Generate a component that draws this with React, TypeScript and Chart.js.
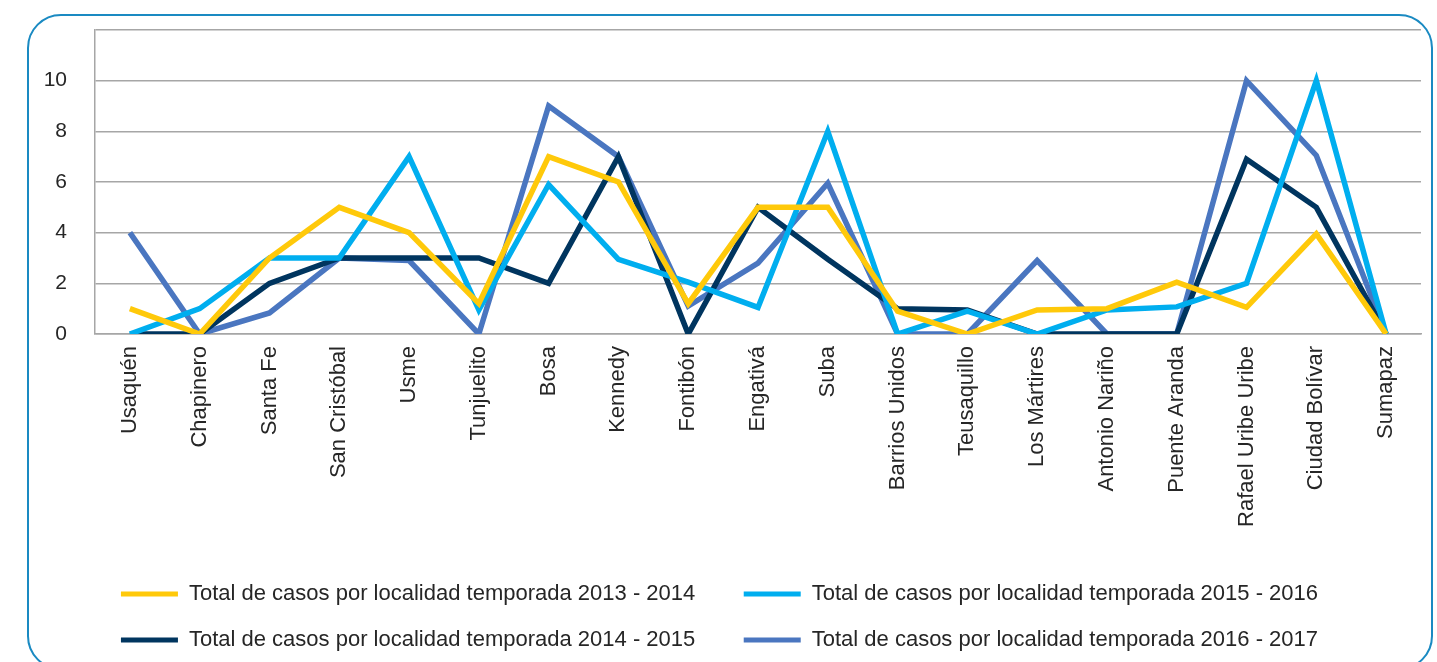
import { useEffect, useRef } from 'react';
import { Chart, registerables } from 'chart.js';

Chart.register(...registerables);

const categories = [
  'Usaquén', 'Chapinero', 'Santa Fe', 'San Cristóbal', 'Usme', 'Tunjuelito', 'Bosa', 'Kennedy',
  'Fontibón', 'Engativá', 'Suba', 'Barrios Unidos', 'Teusaquillo', 'Los Mártires', 'Antonio Nariño',
  'Puente Aranda', 'Rafael Uribe Uribe', 'Ciudad Bolívar', 'Sumapaz',
];

const casos2013_2014 = [1, 0, 3, 5, 4, 1.2, 7, 6, 1.2, 5, 5, 0.9, 0, 0.95, 1, 2.05, 1.05, 3.95, 0];
const casos2014_2015 = [0, 0, 2, 3, 3, 3, 2, 7, 0, 5, 2.95, 1, 0.95, 0, 0, 0, 6.9, 5, 0];
const casos2015_2016 = [0, 1, 3, 3, 7, 0.95, 5.9, 2.95, 2.05, 1.05, 8, 0, 0.9, 0, 0.95, 1.07, 2, 10, 0];
const casos2016_2017 = [4, 0, 0.83, 3, 2.9, 0, 9, 7, 1.1, 2.8, 5.95, 0, 0, 2.9, 0, 0, 10, 7.05, 0];

const seriesLabels = [
  'Total de casos por localidad temporada 2013 - 2014',
  'Total de casos por localidad temporada 2015 - 2016',
  'Total de casos por localidad temporada 2014 - 2015',
  'Total de casos por localidad temporada 2016 - 2017',
];

const yTickLabels = ['0', '2', '4', '6', '8', '10', ''];

const FONT = '"Liberation Sans", Arial, Helvetica, sans-serif';
const TEXT = '#262626';
const GRID = '#a6a6a6';
const LINE_W = 5.5;

export default function App() {
  const ref = useRef<HTMLCanvasElement>(null);

  useEffect(() => {
    const canvas = ref.current;
    if (!canvas) return;
    const chart = new Chart(canvas, {
      type: 'line',
      data: {
        labels: categories,
        datasets: [
          { label: seriesLabels[0], data: casos2013_2014, borderColor: '#FFC90A', backgroundColor: '#FFC90A', borderWidth: LINE_W },
          { label: seriesLabels[1], data: casos2015_2016, borderColor: '#00AEEF', backgroundColor: '#00AEEF', borderWidth: LINE_W },
          { label: seriesLabels[2], data: casos2014_2015, borderColor: '#00355F', backgroundColor: '#00355F', borderWidth: LINE_W },
          { label: seriesLabels[3], data: casos2016_2017, borderColor: '#4A76C0', backgroundColor: '#4A76C0', borderWidth: LINE_W },
        ],
      },
      options: {
        responsive: false,
        animation: false,
        layout: { padding: { left: 18, right: 16, top: 30, bottom: 1 } },
        elements: {
          line: { tension: 0, borderWidth: LINE_W, borderJoinStyle: 'miter', borderCapStyle: 'butt' },
          point: { radius: 0, hoverRadius: 0, hitRadius: 0 },
        },
        plugins: {
          tooltip: { enabled: false },
          legend: {
            position: 'bottom',
            labels: {
              boxWidth: 57,
              boxHeight: 5,
              padding: 24,
              color: TEXT,
              font: { family: FONT, size: 22 },
              generateLabels: (ch: any) => {
                const items = (Chart.defaults.plugins.legend.labels as any).generateLabels(ch);
                return items.map((it: any, i: number) => ({
                  ...it,
                  text: i % 2 === 0 ? it.text + '    ' : it.text,
                  lineWidth: 0,
                  fillStyle: it.strokeStyle,
                }));
              },
            },
          },
        },
        scales: {
          x: {
            offset: true,
            grid: { display: false, drawTicks: false },
            border: { display: true, color: GRID, width: 1.5 },
            ticks: {
              autoSkip: false,
              maxRotation: 90,
              minRotation: 90,
              padding: 12,
              color: TEXT,
              font: { family: FONT, size: 22 },
            },
            afterFit: (s: any) => { s.height = 225; },
          },
          y: {
            min: 0,
            max: 12,
            ticks: {
              stepSize: 2,
              padding: 2,
              color: TEXT,
              font: { family: FONT, size: 21 },
              callback: (_v: any, i: number) => yTickLabels[i],
            },
            grid: { color: GRID, lineWidth: 1.5, drawTicks: true, tickLength: 26, tickColor: 'rgba(0,0,0,0)' },
            border: { display: true, color: GRID, width: 1.5 },
            afterFit: (s: any) => { s.width = 77; },
          },
        },
      } as any,
    });
    return () => chart.destroy();
  }, []);

  return (
    <div style={{ position: 'fixed', left: 0, top: 0, width: 1437, height: 662, overflow: 'hidden', background: '#fff' }}>
      <div
        style={{
          position: 'absolute', left: 27, top: 14, width: 1406, height: 656,
          border: '2.5px solid #1A8AC2', borderRadius: 34, boxSizing: 'border-box',
        }}
      />
      <canvas ref={ref} width={1437} height={662} style={{ position: 'absolute', left: 0, top: 0, width: 1437, height: 662 }} />
    </div>
  );
}
